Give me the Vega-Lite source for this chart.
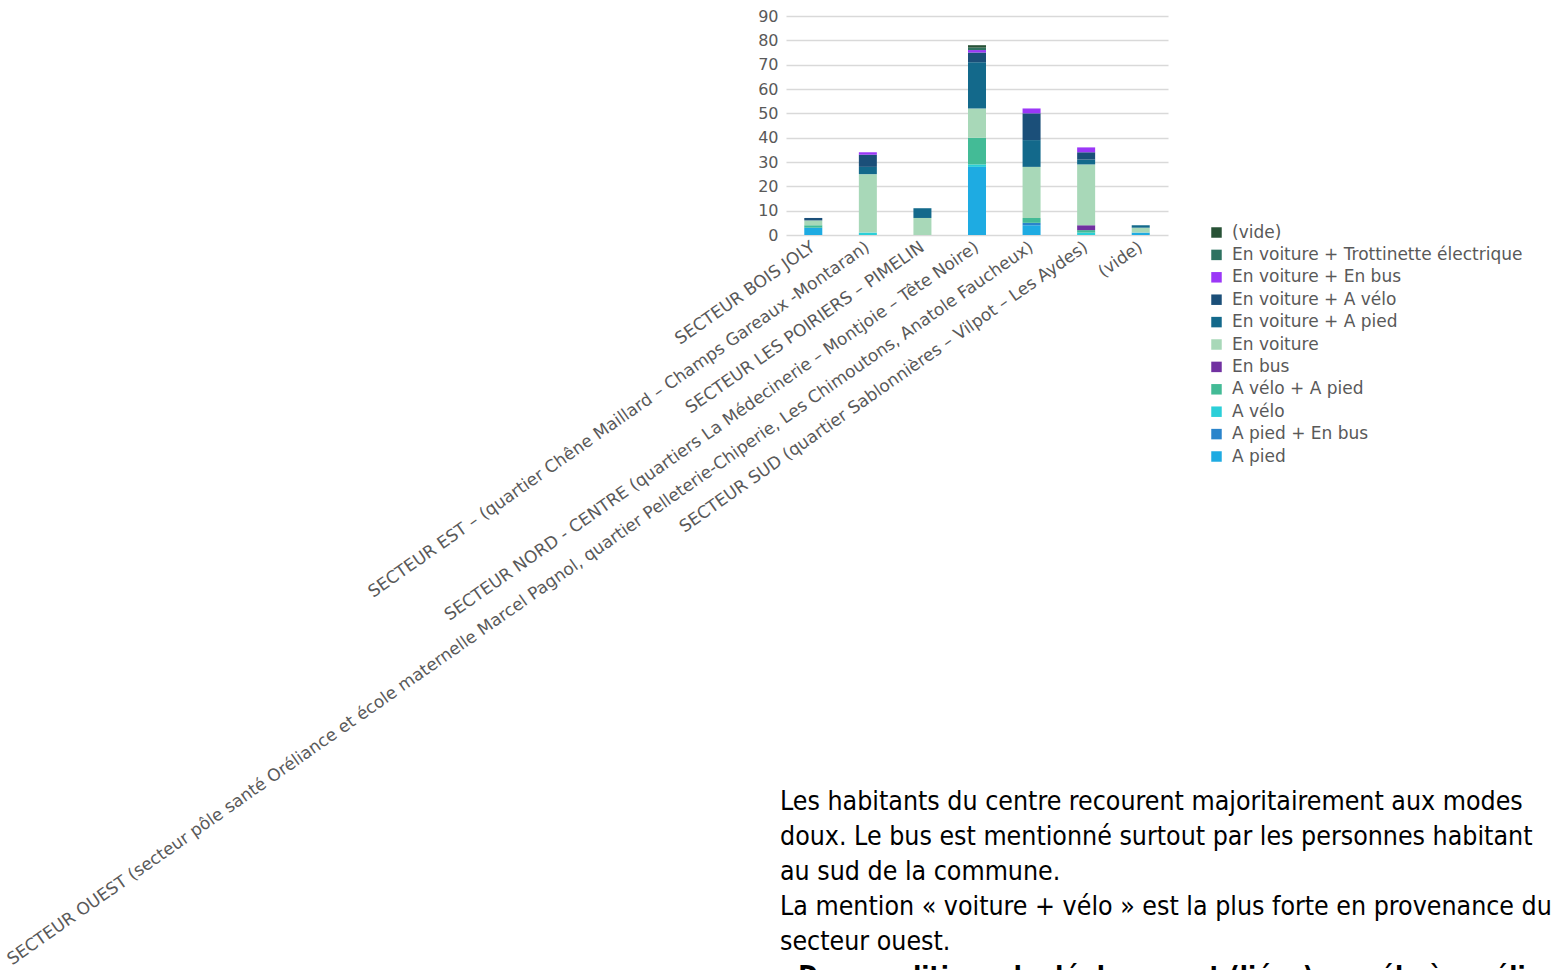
{
  "$schema": "https://vega.github.io/schema/vega-lite/v6.json",
  "autosize": {"type": "none"},
  "padding": {"left": 786, "top": 16, "right": 771, "bottom": 954},
  "background": "white",
  "config": {"view": {"stroke": null}, "font": "DejaVu Sans"},
  "spacing": 557,
  "bounds": "flush",
  "datasets": {
    "reponses": [
      {"secteur": "SECTEUR BOIS JOLY", "mode": "A pied", "n": 3},
      {"secteur": "SECTEUR BOIS JOLY", "mode": "A vélo + A pied", "n": 1},
      {"secteur": "SECTEUR BOIS JOLY", "mode": "En voiture", "n": 2},
      {"secteur": "SECTEUR BOIS JOLY", "mode": "En voiture + A vélo", "n": 1},
      {"secteur": "SECTEUR EST – (quartier Chêne Maillard – Champs Gareaux -Montaran)", "mode": "A vélo", "n": 1},
      {"secteur": "SECTEUR EST – (quartier Chêne Maillard – Champs Gareaux -Montaran)", "mode": "En voiture", "n": 24},
      {"secteur": "SECTEUR EST – (quartier Chêne Maillard – Champs Gareaux -Montaran)", "mode": "En voiture + A pied", "n": 3},
      {"secteur": "SECTEUR EST – (quartier Chêne Maillard – Champs Gareaux -Montaran)", "mode": "En voiture + A vélo", "n": 5},
      {"secteur": "SECTEUR EST – (quartier Chêne Maillard – Champs Gareaux -Montaran)", "mode": "En voiture + En bus", "n": 1},
      {"secteur": "SECTEUR LES POIRIERS – PIMELIN", "mode": "En voiture", "n": 7},
      {"secteur": "SECTEUR LES POIRIERS – PIMELIN", "mode": "En voiture + A pied", "n": 4},
      {"secteur": "SECTEUR NORD - CENTRE (quartiers La Médecinerie – Montjoie – Tête Noire)", "mode": "A pied", "n": 28},
      {"secteur": "SECTEUR NORD - CENTRE (quartiers La Médecinerie – Montjoie – Tête Noire)", "mode": "A vélo", "n": 1},
      {"secteur": "SECTEUR NORD - CENTRE (quartiers La Médecinerie – Montjoie – Tête Noire)", "mode": "A vélo + A pied", "n": 11},
      {"secteur": "SECTEUR NORD - CENTRE (quartiers La Médecinerie – Montjoie – Tête Noire)", "mode": "En voiture", "n": 12},
      {"secteur": "SECTEUR NORD - CENTRE (quartiers La Médecinerie – Montjoie – Tête Noire)", "mode": "En voiture + A pied", "n": 19},
      {"secteur": "SECTEUR NORD - CENTRE (quartiers La Médecinerie – Montjoie – Tête Noire)", "mode": "En voiture + A vélo", "n": 4},
      {"secteur": "SECTEUR NORD - CENTRE (quartiers La Médecinerie – Montjoie – Tête Noire)", "mode": "En voiture + En bus", "n": 1},
      {"secteur": "SECTEUR NORD - CENTRE (quartiers La Médecinerie – Montjoie – Tête Noire)", "mode": "En voiture + Trottinette électrique", "n": 1},
      {"secteur": "SECTEUR NORD - CENTRE (quartiers La Médecinerie – Montjoie – Tête Noire)", "mode": "(vide)", "n": 1},
      {"secteur": "SECTEUR OUEST (secteur pôle santé Oréliance et école maternelle Marcel Pagnol, quartier Pelleterie-Chiperie, Les Chimoutons, Anatole Faucheux)", "mode": "A pied", "n": 4},
      {"secteur": "SECTEUR OUEST (secteur pôle santé Oréliance et école maternelle Marcel Pagnol, quartier Pelleterie-Chiperie, Les Chimoutons, Anatole Faucheux)", "mode": "A pied + En bus", "n": 1},
      {"secteur": "SECTEUR OUEST (secteur pôle santé Oréliance et école maternelle Marcel Pagnol, quartier Pelleterie-Chiperie, Les Chimoutons, Anatole Faucheux)", "mode": "A vélo + A pied", "n": 2},
      {"secteur": "SECTEUR OUEST (secteur pôle santé Oréliance et école maternelle Marcel Pagnol, quartier Pelleterie-Chiperie, Les Chimoutons, Anatole Faucheux)", "mode": "En voiture", "n": 21},
      {"secteur": "SECTEUR OUEST (secteur pôle santé Oréliance et école maternelle Marcel Pagnol, quartier Pelleterie-Chiperie, Les Chimoutons, Anatole Faucheux)", "mode": "En voiture + A pied", "n": 11},
      {"secteur": "SECTEUR OUEST (secteur pôle santé Oréliance et école maternelle Marcel Pagnol, quartier Pelleterie-Chiperie, Les Chimoutons, Anatole Faucheux)", "mode": "En voiture + A vélo", "n": 11},
      {"secteur": "SECTEUR OUEST (secteur pôle santé Oréliance et école maternelle Marcel Pagnol, quartier Pelleterie-Chiperie, Les Chimoutons, Anatole Faucheux)", "mode": "En voiture + En bus", "n": 2},
      {"secteur": "SECTEUR SUD (quartier Sablonnières – Vilpot – Les Aydes)", "mode": "A vélo", "n": 1},
      {"secteur": "SECTEUR SUD (quartier Sablonnières – Vilpot – Les Aydes)", "mode": "A vélo + A pied", "n": 1},
      {"secteur": "SECTEUR SUD (quartier Sablonnières – Vilpot – Les Aydes)", "mode": "En bus", "n": 2},
      {"secteur": "SECTEUR SUD (quartier Sablonnières – Vilpot – Les Aydes)", "mode": "En voiture", "n": 25},
      {"secteur": "SECTEUR SUD (quartier Sablonnières – Vilpot – Les Aydes)", "mode": "En voiture + A pied", "n": 2},
      {"secteur": "SECTEUR SUD (quartier Sablonnières – Vilpot – Les Aydes)", "mode": "En voiture + A vélo", "n": 3},
      {"secteur": "SECTEUR SUD (quartier Sablonnières – Vilpot – Les Aydes)", "mode": "En voiture + En bus", "n": 2},
      {"secteur": "(vide)", "mode": "A pied", "n": 1},
      {"secteur": "(vide)", "mode": "En voiture", "n": 2},
      {"secteur": "(vide)", "mode": "En voiture + A pied", "n": 1}
    ],
    "commentaire": [
      {"ligne": 1, "texte": "Les habitants du centre recourent majoritairement aux modes"},
      {"ligne": 2, "texte": "doux. Le bus est mentionné surtout par les personnes habitant"},
      {"ligne": 3, "texte": "au sud de la commune."},
      {"ligne": 4, "texte": "La mention « voiture + vélo » est la plus forte en provenance du"},
      {"ligne": 5, "texte": "secteur ouest."},
      {"ligne": 6, "texte": "- Des conditions de déplacement (liées) au vélo à améliorer, meilleure sécurité"}
    ]
  },
  "vconcat": [
    {
      "width": 382,
      "height": 219,
      "data": {"name": "reponses"},
      "transform": [
        {"calculate": "indexof(['A pied','A pied + En bus','A vélo','A vélo + A pied','En bus','En voiture','En voiture + A pied','En voiture + A vélo','En voiture + En bus','En voiture + Trottinette électrique','(vide)'], datum.mode)", "as": "rang"}
      ],
      "mark": {"type": "bar"},
      "encoding": {
        "x": {
          "field": "secteur",
          "type": "nominal",
          "sort": null,
          "scale": {"paddingInner": 0.67, "paddingOuter": 0.335},
          "axis": {
            "title": null,
            "domain": false,
            "ticks": false,
            "labelAngle": -35,
            "labelAlign": "right",
            "labelBaseline": "middle",
            "labelFont": "DejaVu Sans",
            "labelFontSize": 17,
            "labelColor": "#595959",
            "labelPadding": 10,
            "labelLimit": 0,
            "labelOverlap": false
          }
        },
        "y": {
          "field": "n",
          "type": "quantitative",
          "stack": "zero",
          "scale": {"domain": [0, 90]},
          "axis": {
            "title": null,
            "values": [0, 10, 20, 30, 40, 50, 60, 70, 80, 90],
            "domain": false,
            "ticks": false,
            "labelFont": "DejaVu Sans",
            "labelFontSize": 16,
            "labelColor": "#595959",
            "labelPadding": 8,
            "gridColor": "#d9d9d9",
            "gridWidth": 1.6
          }
        },
        "color": {
          "field": "mode",
          "type": "nominal",
          "scale": {
            "domain": ["(vide)", "En voiture + Trottinette électrique", "En voiture + En bus", "En voiture + A vélo", "En voiture + A pied", "En voiture", "En bus", "A vélo + A pied", "A vélo", "A pied + En bus", "A pied"],
            "range": ["#285236", "#2e7260", "#9b37f7", "#1b4f79", "#13698b", "#a8d8b8", "#7131a1", "#43bb96", "#2bcfd8", "#2a84cb", "#1eabe2"]
          },
          "legend": {
            "title": null,
            "orient": "none",
            "legendX": 422,
            "legendY": 208,
            "symbolType": "square",
            "symbolSize": 110,
            "symbolStrokeWidth": 0,
            "labelFont": "DejaVu Sans",
            "labelFontSize": 17,
            "labelColor": "#595959",
            "labelOffset": 7,
            "rowPadding": 4.4,
            "labelLimit": 0
          }
        },
        "order": {"field": "rang", "type": "quantitative", "sort": "ascending"}
      }
    },
    {
      "width": 771,
      "height": 210,
      "data": {"name": "commentaire"},
      "encoding": {
        "x": {"datum": 0, "type": "quantitative", "scale": {"domain": [0, 1]}, "axis": null},
        "y": {"field": "ligne", "type": "ordinal", "axis": null, "scale": {"type": "point", "padding": 0.5}},
        "text": {"field": "texte"}
      },
      "layer": [
        {
          "transform": [{"filter": "datum.ligne < 6"}],
          "mark": {"type": "text", "align": "left", "baseline": "alphabetic", "dx": -6, "font": "'Liberation Sans Narrow', 'DejaVu Sans Condensed', sans-serif", "fontSize": 26.5, "color": "#000000"}
        },
        {
          "transform": [{"filter": "datum.ligne == 6"}],
          "mark": {"type": "text", "align": "left", "baseline": "alphabetic", "dx": -6, "font": "'Liberation Sans Narrow', 'DejaVu Sans Condensed', sans-serif", "fontSize": 26.5, "fontWeight": "bold", "color": "#000000"}
        }
      ]
    }
  ]
}
